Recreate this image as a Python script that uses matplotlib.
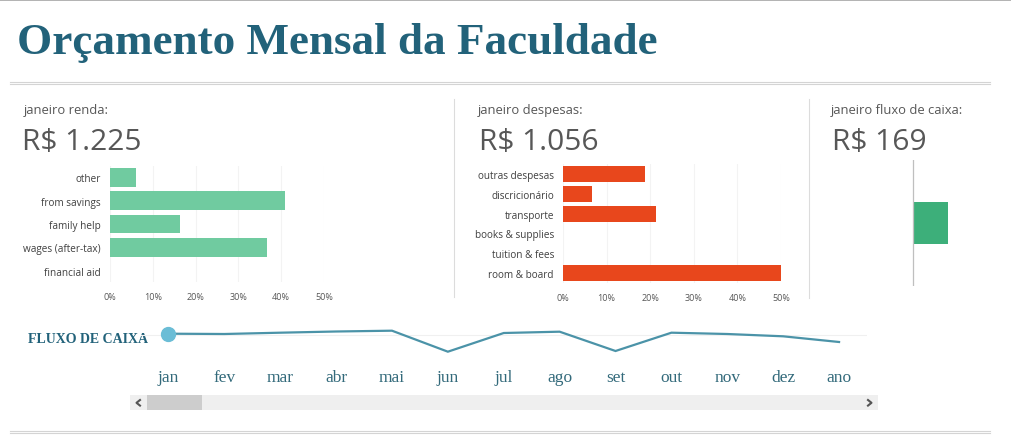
import matplotlib
matplotlib.use("Agg")
import matplotlib.pyplot as plt
from matplotlib.patches import Rectangle
from matplotlib.lines import Line2D
import matplotlib.transforms as mtransforms

# ---------------- data ----------------
title = "Orçamento Mensal da Faculdade"
month_name = "janeiro"
income_total = "R$ 1.225"
expense_total = "R$ 1.056"
cashflow_total = "R$ 169"

income_categories = ["other", "from savings", "family help", "wages (after-tax)", "financial aid"]
income_share = [6.1, 40.8, 16.3, 36.7, 0.0]

expense_categories = ["outras despesas", "discricionário", "transporte",
                      "books & supplies", "tuition & fees", "room & board"]
expense_share = [18.9, 6.6, 21.3, 0.0, 0.0, 50.0]

cashflow_value = [169]

months = ["jan", "fev", "mar", "abr", "mai", "jun", "jul", "ago", "set", "out", "nov", "dez", "ano"]
monthly_cashflow = [169, 130, 300, 455, 560, -2170, 260, 430, -2080, 300, 130, -170, -910]

pct_ticks = [0, 10, 20, 30, 40, 50]
pct_labels = ["0%", "10%", "20%", "30%", "40%", "50%"]

# ---------------- style ----------------
W, H, DPI = 1011, 439, 100
TEAL = "#22627a"
GRAY_TXT = "#575757"
LBL_TXT = "#404040"
GREEN_LIGHT = "#70cba0"
GREEN_DARK = "#3daf7a"
ORANGE = "#e8471c"
LINE_C = "#4b93a8"
MARK_C = "#6bbdd6"
SANS = ["Open Sans", "DejaVu Sans"]
SERIF = ["Liberation Serif", "DejaVu Serif"]

fig = plt.figure(figsize=(W / DPI, H / DPI), dpi=DPI)
fig.patch.set_facecolor("white")

# background overlay axes in pixel coordinates
bg = fig.add_axes([0, 0, 1, 1])
bg.set_xlim(0, W)
bg.set_ylim(H, 0)
bg.axis("off")


def px_axes(x0, y0, x1, y1):
    return fig.add_axes([x0 / W, 1 - y1 / H, (x1 - x0) / W, (y1 - y0) / H])


def hline(y, x0, x1, color, lw):
    bg.add_line(Line2D([x0, x1], [y, y], color=color, lw=lw))


def vline(x, y0, y1, color, lw):
    bg.add_line(Line2D([x, x], [y0, y1], color=color, lw=lw))


# frame lines
hline(0.6, 0, W, "#a6a6a6", 1.2)
hline(82.5, 10, 990, "#d4d4d4", 0.8)
hline(84.6, 10, 990, "#d4d4d4", 0.8)
hline(432.0, 10, 990, "#d4d4d4", 0.8)
hline(434.3, 10, 990, "#d4d4d4", 0.8)
vline(453.5, 100, 298, "#dcdcdc", 0.8)
vline(808.5, 100, 299, "#dcdcdc", 0.8)

# title
bg.text(17, 54, title, family=SERIF, fontweight="bold", fontsize=32.5,
        color=TEAL, va="baseline", ha="left")

# panel headers
for x_lbl, x_big, lbl, big in [(24, 22.5, f"{month_name} renda:", income_total),
                               (478, 479, f"{month_name} despesas:", expense_total),
                               (831, 831.5, f"{month_name} fluxo de caixa:", cashflow_total)]:
    bg.text(x_lbl, 114, lbl, family=SANS, fontsize=9.4, color=GRAY_TXT, va="baseline")
    bg.text(x_big, 150, big, family=SANS, fontsize=21.5, fontweight="medium",
            color=GRAY_TXT, va="baseline")


def bar_panel(ax, cats, vals, color):
    n = len(cats)
    ax.barh(range(n), vals, height=0.8, color=color, zorder=2)
    ax.set_ylim(n - 0.5, -0.5)
    ax.set_xlim(0, 50)
    ax.set_yticks(range(n))
    ax.set_yticklabels(cats, family=SANS, fontsize=7.2, color=LBL_TXT)
    ax.set_xticks(pct_ticks)
    ax.set_xticklabels(pct_labels, family=SANS, fontsize=6.5, color=GRAY_TXT)
    ax.tick_params(axis="both", length=0)
    ax.tick_params(axis="y", pad=6.5)
    ax.tick_params(axis="x", pad=7)
    for s in ax.spines.values():
        s.set_visible(False)
    ax.grid(axis="x", color="#f3f3f3", lw=0.8, zorder=0)
    ax.set_axisbelow(True)


ax_inc = px_axes(110, 166.8, 324, 283.2)
bar_panel(ax_inc, income_categories, income_share, GREEN_LIGHT)

ax_exp = px_axes(563, 165.1, 781, 283.9)
bar_panel(ax_exp, expense_categories, expense_share, ORANGE)

# cash flow single bar
ax_cf = px_axes(830, 161, 996, 287)
ax_cf.barh([0], cashflow_value, height=0.33, color=GREEN_DARK, zorder=2)
ax_cf.axvline(0, color="#bfbfbf", lw=0.9, zorder=3)
ax_cf.set_xlim(-400, 400)
ax_cf.set_ylim(-0.5, 0.5)
ax_cf.axis("off")

# bottom line chart
bg.text(28, 343.5, "FLUXO DE CAIXA", family=SERIF, fontweight="bold", fontsize=10.0,
        color=TEAL, va="baseline", ha="left")

ax_ln = px_axes(140.5, 320, 867, 360)
x_idx = list(range(len(months)))
ax_ln.axhline(0, color="#f0f0f0", lw=0.8, zorder=1)
ax_ln.plot(x_idx, monthly_cashflow, color=LINE_C, lw=1.6, zorder=2, solid_joinstyle="miter")
ax_ln.plot([x_idx[0]], [monthly_cashflow[0]], "o", ms=10, color=MARK_C, zorder=3, clip_on=False)
ax_ln.set_xlim(-0.5, 12.5)
ax_ln.set_ylim(-3120, 2080)
ax_ln.axis("off")

tr = mtransforms.blended_transform_factory(ax_ln.transData, bg.transData)
for i, m in enumerate(months):
    ax_ln.text(i, 382.5, m, transform=tr, family=SERIF, fontsize=12.5, color="#336a7b",
               ha="center", va="baseline", clip_on=False)

# scrollbar
bg.add_patch(Rectangle((130, 396), 748, 15, fc="#efefef", ec="none"))
bg.add_patch(Rectangle((147, 396), 55, 15, fc="#cdcdcd", ec="none"))
bg.add_line(Line2D([140, 136.5, 140], [401, 403.8, 406.6], color="#555555", lw=1.5))
bg.add_line(Line2D([868, 871.5, 868], [401, 403.8, 406.6], color="#555555", lw=1.5))

fig.savefig("out.png", dpi=DPI, facecolor="white")
